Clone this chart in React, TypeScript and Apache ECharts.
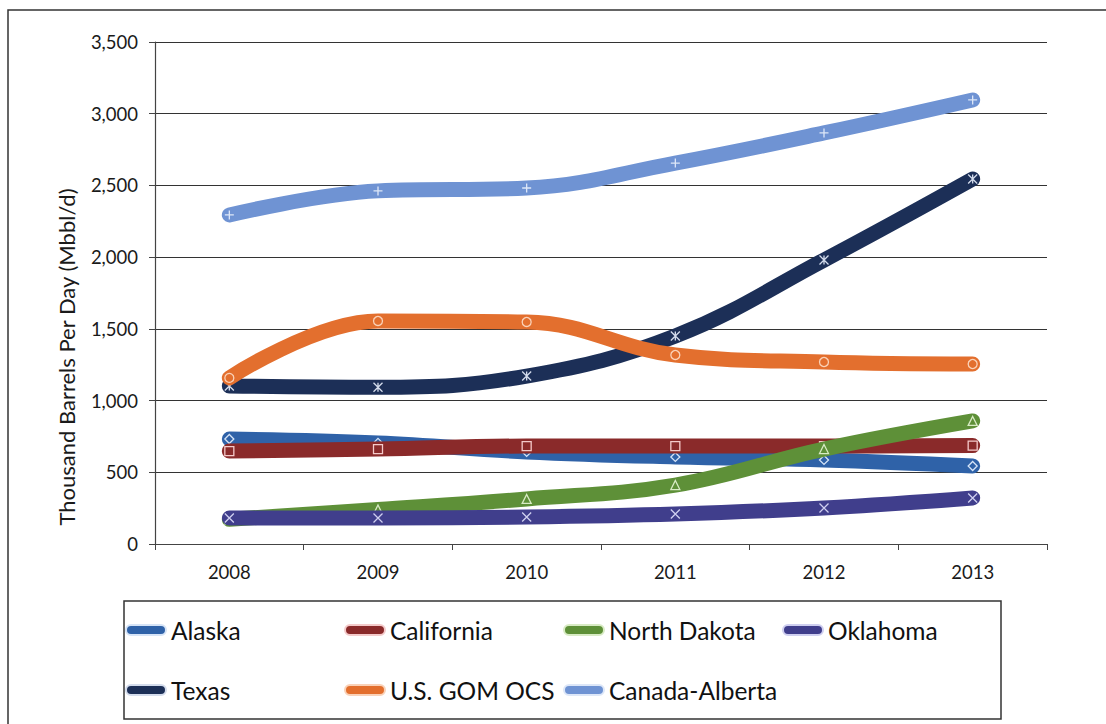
import React, { useEffect, useRef } from "react";
import * as echarts from "echarts";

const years = ["2008", "2009", "2010", "2011", "2012", "2013"];
const alaska = [732, 705, 642, 607, 586, 544];
const california = [648, 662, 683, 683, 683, 686];
const northDakota = [172, 240, 314, 411, 662, 858];
const oklahoma = [181, 181, 188, 209, 251, 321];
const texas = [1102, 1093, 1171, 1450, 1980, 2545];
const gom = [1158, 1555, 1548, 1318, 1269, 1255];
const alberta = [2294, 2462, 2482, 2656, 2866, 3096];

const yTitle = "Thousand Barrels Per Day (Mbbl/d)";
const seriesNames = ["Alaska", "California", "North Dakota", "Oklahoma", "Texas", "U.S. GOM OCS", "Canada-Alberta"];
const seriesData = [alaska, california, northDakota, oklahoma, texas, gom, alberta];
const lineColors = ["#2F62A8", "#8A2A2A", "#5E9038", "#403E8C", "#1C2F57", "#E36F2E", "#6F93D3"];
const markerColors = ["#d6e4f7", "#f4caca", "#d8ebc4", "#cfcff0", "#d4dcec", "#fad2b8", "#dde7f8"];
const symbols = [
  "diamond",
  "rect",
  "triangle",
  "path://M0,0L10,10M10,0L0,10",
  "path://M0,0L10,10M10,0L0,10M5,0L5,10",
  "circle",
  "path://M5,0L5,10M0,5L10,5",
];

export default function App() {
  const ref = useRef<HTMLDivElement>(null);
  useEffect(() => {
    const chart = echarts.init(ref.current!, null, { renderer: "svg" });
    const font = "Lato, 'Open Sans', sans-serif";
    chart.setOption({
      animation: false,
      backgroundColor: "#ffffff",
      textStyle: { fontFamily: font },
      grid: { left: 155, top: 42, right: 59, bottom: 180, containLabel: false },
      xAxis: {
        type: "category",
        data: years,
        boundaryGap: true,
        axisLine: { show: true, lineStyle: { color: "#444", width: 1.2 } },
        axisTick: { show: true, length: 6, inside: false, lineStyle: { color: "#444" } },
        axisLabel: { fontSize: 18.5, color: "#1a1a1a", margin: 18, fontFamily: font },
      },
      yAxis: {
        type: "value",
        min: 0,
        max: 3500,
        interval: 500,
        axisLine: { show: true, lineStyle: { color: "#444", width: 1.2 } },
        axisTick: { show: true, length: 6, lineStyle: { color: "#444" } },
        axisLabel: {
          fontSize: 18.5,
          color: "#1a1a1a",
          margin: 17,
          fontFamily: font,
          formatter: (v: number) => v.toLocaleString("en-US"),
        },
        splitLine: { show: true, lineStyle: { color: "#333", width: 1 } },
      },
      legend: {
        left: 125,
        top: 600,
        width: 900,
        padding: 0,
        itemGap: 0,
        itemWidth: 40,
        itemHeight: 11,
        icon: "path://M5,0L35,0A5,5 0 0 1 35,10L5,10A5,5 0 0 1 5,0Z",
        data: seriesNames,
        textStyle: { fontSize: 24.5, color: "#111", width: 173, lineHeight: 60, fontFamily: font },
      },
      graphic: [
        {
          type: "rect",
          shape: { x: 8, y: 10, width: 1200, height: 800 },
          style: { fill: "none", stroke: "#333", lineWidth: 1.5 },
          silent: true,
        },
        {
          type: "rect",
          shape: { x: 124, y: 601, width: 877, height: 118 },
          style: { fill: "none", stroke: "#333", lineWidth: 1.5 },
          silent: true,
        },
        {
          type: "text",
          x: 66,
          y: 357,
          rotation: Math.PI / 2,
          silent: true,
          style: {
            text: yTitle,
            fontSize: 22,
            fontFamily: font,
            fill: "#1a1a1a",
            align: "center",
            verticalAlign: "middle",
          },
        },
      ],
      series: seriesNames.map((name, i) => ({
        name,
        type: "line",
        data: seriesData[i],
        smooth: 0.4,
        symbol: symbols[i],
        symbolSize: 9,
        showSymbol: true,
        lineStyle: { width: 15, color: lineColors[i], cap: "round", join: "round" },
        itemStyle: { color: lineColors[i], borderColor: markerColors[i], borderWidth: 1.3 },
        emphasis: { disabled: true },
        z: 2 + i,
      })),
    });
    return () => chart.dispose();
  }, []);
  return (
    <div
      ref={ref}
      style={{ position: "fixed", left: 0, top: 0, width: 1106, height: 724 }}
    />
  );
}
